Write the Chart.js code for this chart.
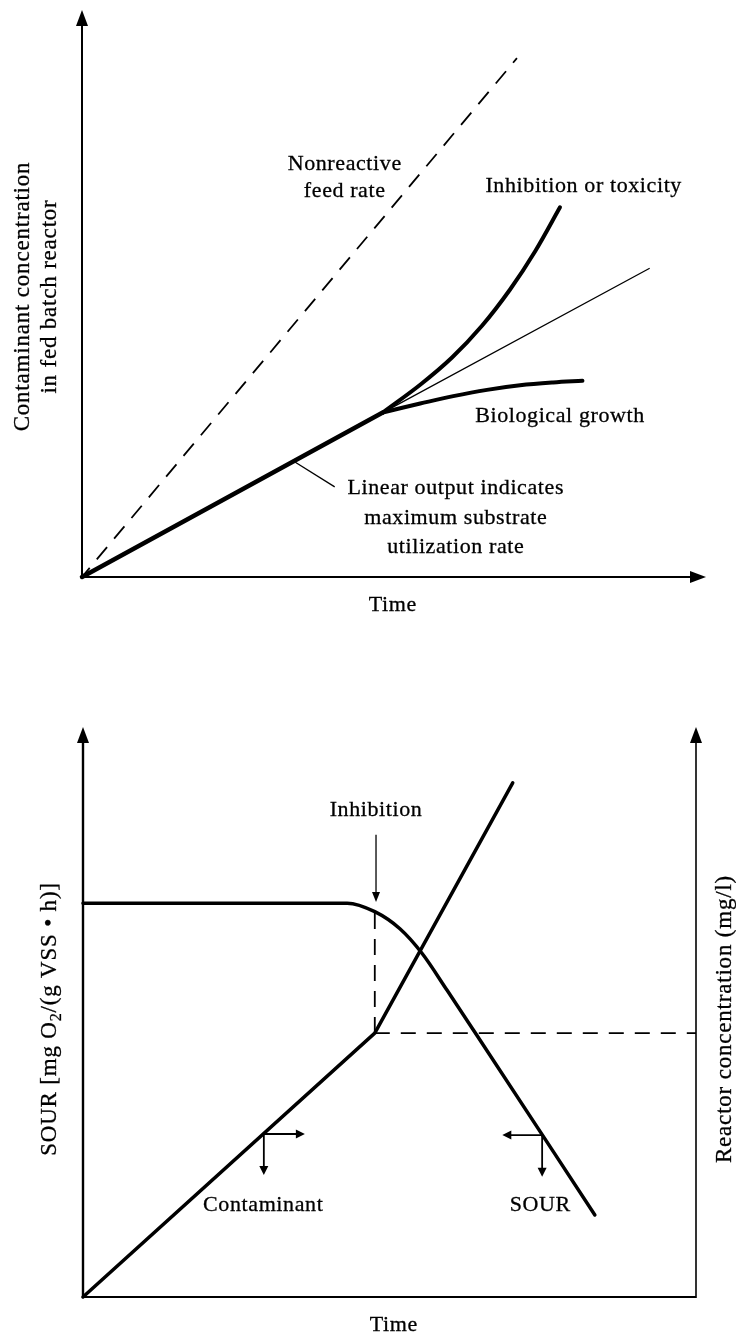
<!DOCTYPE html>
<html lang="en">
<head>
<meta charset="UTF-8" />
<title>Fed batch reactor - contaminant and SOUR response</title>
<script src="https://cdn.jsdelivr.net/npm/chart.js@4/dist/chart.umd.min.js"></script>
<style>
  body { margin: 0; background: #fff; }
  canvas { position: absolute; left: 0; }
  #feedChart { top: 0; }
  #sourChart { top: 660px; }
</style>
</head>
<body>
<canvas id="feedChart" width="736" height="640"></canvas>
<canvas id="sourChart" width="736" height="678"></canvas>

<script>
const SERIF = '"Liberation Serif", "Times New Roman", serif';

// upper panel: contaminant concentration in the fed batch reactor vs time
const feedTime = [0, 6.97];
const feedConc = [0, 9.15];
const linearTime = [0, 4.82];
const linearConc = [0, 2.90];
const tangentTime = [4.82, 9.09];
const tangentConc = [2.90, 5.44];
const inhibTime = [4.82, 5.42, 5.93, 6.41, 6.86, 7.26, 7.66];
const inhibConc = [2.90, 3.39, 3.87, 4.43, 5.07, 5.74, 6.52];
const growthTime = [4.82, 5.15, 5.42, 5.95, 6.49, 7.02, 7.55, 8.02];
const growthConc = [2.90, 2.99, 3.06, 3.19, 3.30, 3.38, 3.43, 3.46];

// lower panel: SOUR and reactor concentration vs time
const sourTime = [0, 4.31, 4.76, 5.17, 5.53, 5.94, 6.39, 8.35];
const sourRate = [6.91, 6.91, 6.76, 6.46, 6.03, 5.38, 4.65, 1.44];
const contamTime = [0, 4.76, 7.01];
const contamConc = [0, 4.63, 9.02];
const onsetTime = contamTime[1];
const onsetConc = contamConc[1];
const onsetSour = sourRate[2];

const pts = (xs, ys) => xs.map((x, i) => ({ x, y: ys[i] }));

function line(data, width, extra) {
  return Object.assign({
    data, showLine: true, borderColor: '#000', borderWidth: width,
    pointRadius: 0, tension: 0, clip: false, borderCapStyle: 'round'
  }, extra || {});
}

function head(ctx, x, y, angle, len, half) {
  ctx.save();
  ctx.translate(x, y);
  ctx.rotate(angle);
  ctx.beginPath();
  ctx.moveTo(0, 0);
  ctx.lineTo(-len, -half);
  ctx.lineTo(-len, half);
  ctx.closePath();
  ctx.fill();
  ctx.restore();
}

function seg(ctx, x1, y1, x2, y2, w) {
  ctx.lineWidth = w;
  ctx.beginPath();
  ctx.moveTo(x1, y1);
  ctx.lineTo(x2, y2);
  ctx.stroke();
}

// scanned-looking type: filled and lightly stroked
function ink(ctx, text, x, y) {
  ctx.fillText(text, x, y);
  ctx.lineWidth = 0.3;
  ctx.strokeText(text, x, y);
}

// text made of pieces, some of them subscripts; centred on 0,0
function richText(ctx, parts, size) {
  const widths = parts.map(p => {
    ctx.font = (p.sub ? size * 0.7 : size) + 'px ' + SERIF;
    return ctx.measureText(p.text).width;
  });
  let cx = -widths.reduce((s, w) => s + w, 0) / 2;
  parts.forEach((p, i) => {
    ctx.font = (p.sub ? size * 0.7 : size) + 'px ' + SERIF;
    ink(ctx, p.text, cx, p.sub ? size * 0.28 : 0);
    cx += widths[i];
  });
}

const diagram = {
  id: 'diagram',
  afterDatasetsDraw(chart, args, opts) {
    const { ctx, chartArea: a, scales: { x, y } } = chart;
    const px = v => x.getPixelForValue(v);
    const py = v => y.getPixelForValue(v);
    ctx.save();
    ctx.fillStyle = '#000';
    ctx.strokeStyle = '#000';
    ctx.lineCap = 'butt';

    // axes
    seg(ctx, a.left, a.bottom + 1, a.left, a.top + 12, opts.axisWidth);
    head(ctx, a.left, a.top, -Math.PI / 2, 16, 6);
    if (opts.xArrow) {
      seg(ctx, a.left - 1, a.bottom, a.right - 12, a.bottom, opts.axisWidth);
      head(ctx, a.right, a.bottom, 0, 16, 6);
    } else {
      seg(ctx, a.left - 1, a.bottom, a.right, a.bottom, 1.8);
    }
    if (opts.rightAxis) {
      seg(ctx, a.right, a.bottom + 1, a.right, a.top + 12, 1.6);
      head(ctx, a.right, a.top, -Math.PI / 2, 16, 6);
    }

    // leader lines and arrows
    (opts.leaders || []).forEach(l => {
      const x1 = px(l.from[0]), y1 = py(l.from[1]);
      const x2 = px(l.to[0]), y2 = py(l.to[1]);
      const ang = Math.atan2(y2 - y1, x2 - x1);
      const back = l.head ? l.head[0] * 0.7 : 0;
      seg(ctx, x1, y1, x2 - back * Math.cos(ang), y2 - back * Math.sin(ang), l.width);
      if (l.head) head(ctx, x2, y2, ang, l.head[0], l.head[1]);
    });

    // labels
    ctx.textAlign = 'left';
    ctx.textBaseline = 'middle';
    ctx.letterSpacing = '0.6px';
    ctx.font = '22px ' + SERIF;
    (opts.labels || []).forEach(t => {
      const w = ctx.measureText(t.text).width;
      ink(ctx, t.text, px(t.x) - w / 2, py(t.y));
    });

    // axis titles
    const tw = ctx.measureText('Time').width;
    ink(ctx, 'Time', px(opts.timeAt) - tw / 2, a.bottom + 28);

    ctx.letterSpacing = '0.8px';
    (opts.vTitles || []).forEach(t => {
      ctx.save();
      ctx.translate(t.side === 'right' ? a.right + t.offset : a.left - t.offset,
                    (a.top + a.bottom) / 2 + t.shift);
      ctx.rotate(-Math.PI / 2);
      richText(ctx, t.parts, 23);
      ctx.restore();
    });
    ctx.restore();
  }
};

function makeChart(id, datasets, padding, diagramOpts) {
  return new Chart(document.getElementById(id), {
    type: 'scatter',
    data: { datasets },
    options: {
      responsive: false,
      animation: false,
      layout: { padding },
      scales: {
        x: { type: 'linear', min: 0, max: 10, display: false },
        y: { type: 'linear', min: 0, max: 10, display: false }
      },
      plugins: {
        legend: { display: false },
        tooltip: { enabled: false },
        diagram: diagramOpts
      }
    },
    plugins: [diagram]
  });
}

makeChart('feedChart', [
  line(pts(feedTime, feedConc), 1.8, { borderDash: [16, 11], borderDashOffset: 4, borderCapStyle: 'butt' }),
  line(pts(tangentTime, tangentConc), 1.3),
  line(pts(linearTime, linearConc), 4.5),
  line(pts(inhibTime, inhibConc), 4, { tension: 0.35 }),
  line(pts(growthTime, growthConc), 4, { tension: 0.35 })
], { left: 82, right: 30, top: 10, bottom: 63 }, {
  axisWidth: 2,
  xArrow: true,
  timeAt: 4.98,
  labels: [
    { text: 'Nonreactive', x: 4.21, y: 7.28 },
    { text: 'feed rate', x: 4.21, y: 6.80 },
    { text: 'Inhibition or toxicity', x: 8.04, y: 6.89 },
    { text: 'Biological growth', x: 7.66, y: 2.83 },
    { text: 'Linear output indicates', x: 5.99, y: 1.57 },
    { text: 'maximum substrate', x: 5.99, y: 1.04 },
    { text: 'utilization rate', x: 5.99, y: 0.53 }
  ],
  leaders: [
    { from: [3.38, 2.05], to: [4.05, 1.59], width: 1.3 }
  ],
  vTitles: [
    { side: 'left', offset: 59, shift: 3, parts: [{ text: 'Contaminant concentration' }] },
    { side: 'left', offset: 32, shift: 3, parts: [{ text: 'in fed batch reactor' }] }
  ]
});

makeChart('sourChart', [
  line(pts([onsetTime, onsetTime], [onsetConc, onsetSour]), 1.8, { borderDash: [16, 10], borderCapStyle: 'butt' }),
  line(pts([onsetTime, 10], [onsetConc, onsetConc]), 1.8, { borderDash: [15, 11], borderCapStyle: 'butt' }),
  line(pts(sourTime, sourRate), 3.5, { cubicInterpolationMode: 'monotone' }),
  line(pts(contamTime, contamConc), 3.5)
], { left: 83, right: 40, top: 67, bottom: 41 }, {
  axisWidth: 2.4,
  xArrow: false,
  rightAxis: true,
  timeAt: 5.07,
  labels: [
    { text: 'Inhibition', x: 4.78, y: 8.54 },
    { text: 'Contaminant', x: 2.94, y: 1.61 },
    { text: 'SOUR', x: 7.46, y: 1.61 }
  ],
  leaders: [
    { from: [4.78, 8.11], to: [4.78, 6.93], width: 1.3, head: [10, 4] },
    { from: [2.95, 2.86], to: [3.62, 2.86], width: 1.8, head: [9, 4.5] },
    { from: [2.95, 2.86], to: [2.95, 2.14], width: 1.8, head: [9, 4.5] },
    { from: [7.49, 2.84], to: [6.84, 2.84], width: 1.8, head: [9, 4.5] },
    { from: [7.49, 2.84], to: [7.49, 2.11], width: 1.8, head: [9, 4.5] }
  ],
  vTitles: [
    { side: 'left', offset: 33, shift: 7, parts: [
      { text: 'SOUR [mg O' }, { text: '2', sub: true }, { text: '/(g VSS \u2022 h)]' }
    ] },
    { side: 'right', offset: 29, shift: 7, parts: [{ text: 'Reactor concentration (mg/l)' }] }
  ]
});
</script>
</body>
</html>
